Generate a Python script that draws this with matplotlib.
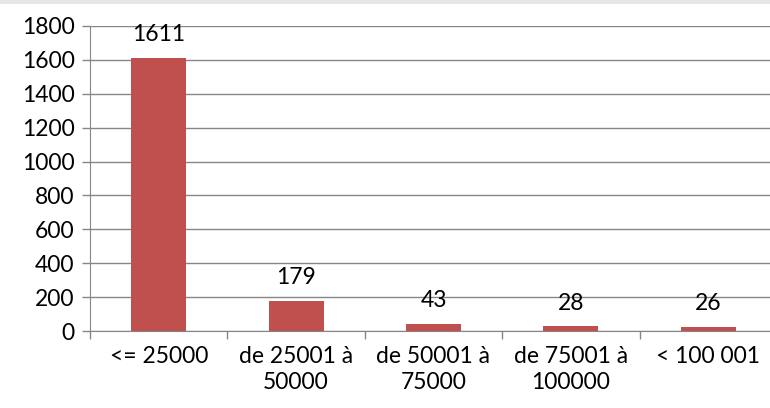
import matplotlib.pyplot as plt
from matplotlib.patches import Rectangle
import numpy as np

categories = ["<= 25000", "de 25001 à\n50000", "de 50001 à\n75000",
              "de 75001 à\n100000", "< 100 001"]
values = [1611, 179, 43, 28, 26]

plt.rcParams['font.family'] = ['Lato', 'DejaVu Sans']
fs = 16.5

fig = plt.figure(figsize=(7.7, 4.08), dpi=100)
# faint grey band along the top edge, like the screenshot
fig.patches.append(Rectangle((0, 1 - 4 / 408), 1, 4 / 408, transform=fig.transFigure,
                             facecolor="#E6E6E6", edgecolor="none"))
ax = fig.add_axes([90 / 770, 77 / 408, 687 / 770, 305 / 408])

x = np.arange(len(categories))
ax.bar(x, values, width=0.4, color="#C0504D", zorder=3)
for xi, v in zip(x, values):
    ax.text(xi, v + 75, str(v), ha="center", va="bottom", fontsize=fs, zorder=4)

ax.set_xlim(-0.5, len(categories) - 0.5)
ax.set_ylim(0, 1800)
ax.set_yticks(np.arange(0, 1801, 200))
ax.yaxis.grid(True, color="#868686", linewidth=1, zorder=0)

ax.set_xticks(x)
ax.set_xticklabels(categories, fontsize=fs, linespacing=1.25)
ax.set_xticks(np.arange(-0.5, len(categories), 1), minor=True)
ax.tick_params(axis="x", which="major", length=0, pad=11)
ax.tick_params(axis="x", which="minor", length=6, color="#868686", width=1)
ax.tick_params(axis="y", length=6, color="#868686", width=1, labelsize=fs, pad=5)

for s in ["top", "right"]:
    ax.spines[s].set_visible(False)
for s in ["left", "bottom"]:
    ax.spines[s].set_color("#868686")

fig.savefig("out.png", dpi=100)
